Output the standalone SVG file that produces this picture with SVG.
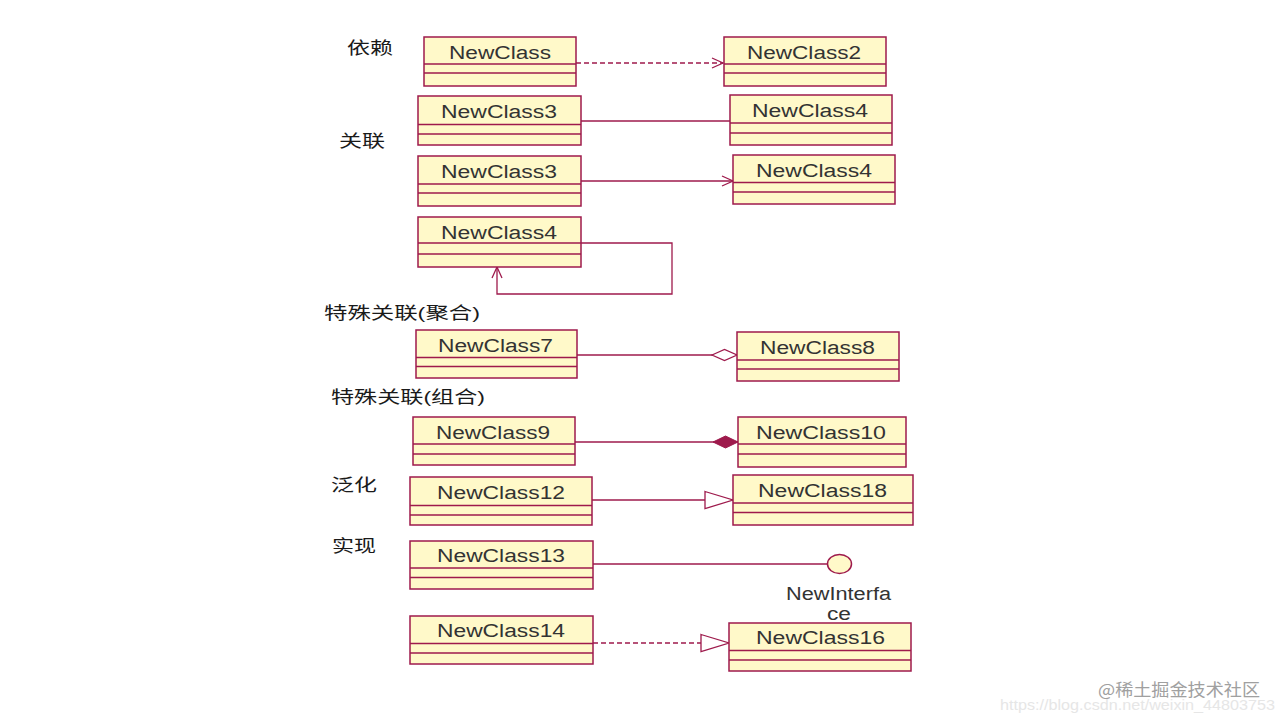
<svg xmlns="http://www.w3.org/2000/svg" width="1280" height="720" viewBox="0 0 1280 720">
<style>
.box{fill:#FFF9C9;stroke:#9E1A4C;stroke-width:1.5}
.div{stroke:#9E1A4C;stroke-width:1.3}
.nm{font-family:"Liberation Sans",Arial,sans-serif;font-size:18px;fill:#333;text-anchor:middle}
.lbl{font-family:"Liberation Sans","Noto Sans CJK SC",sans-serif;font-size:17px;fill:#1a1a1a}
.ln{fill:none;stroke:#9E1A4C;stroke-width:1.3}
.dash{stroke-dasharray:5 3}
</style>
<defs>
<marker id="open" markerUnits="userSpaceOnUse" markerWidth="14" markerHeight="14" refX="12" refY="6" orient="auto" viewBox="0 0 14 12">
<path d="M1 1 L12 6 L1 11" fill="none" stroke="#9E1A4C" stroke-width="1.3"/>
</marker>
<marker id="hdia" markerUnits="userSpaceOnUse" markerWidth="28" markerHeight="14" refX="26" refY="7" orient="auto" viewBox="0 0 28 14">
<path d="M1 7 L13.5 1.5 L26 7 L13.5 12.5 Z" fill="#fff" stroke="#9E1A4C" stroke-width="1.3"/>
</marker>
<marker id="fdia" markerUnits="userSpaceOnUse" markerWidth="28" markerHeight="14" refX="26" refY="7" orient="auto" viewBox="0 0 28 14">
<path d="M1 7 L13.5 1 L26 7 L13.5 13 Z" fill="#9E1A4C" stroke="#9E1A4C" stroke-width="1"/>
</marker>
<marker id="tri" markerUnits="userSpaceOnUse" markerWidth="32" markerHeight="20" refX="29" refY="10" orient="auto" viewBox="0 0 32 20">
<path d="M1 1.5 L29 10 L1 18.5 Z" fill="#fff" stroke="#9E1A4C" stroke-width="1.3"/>
</marker>
</defs>
<rect width="1280" height="720" fill="#fff"/>

<g id="labels">
<text class="lbl" x="347" y="54" textLength="46" lengthAdjust="spacingAndGlyphs">依赖</text>
<text class="lbl" x="339" y="147" textLength="46" lengthAdjust="spacingAndGlyphs">关联</text>
<text class="lbl" x="324" y="319" textLength="156" lengthAdjust="spacingAndGlyphs">特殊关联(聚合)</text>
<text class="lbl" x="331" y="403" textLength="154" lengthAdjust="spacingAndGlyphs">特殊关联(组合)</text>
<text class="lbl" x="331" y="491" textLength="46" lengthAdjust="spacingAndGlyphs">泛化</text>
<text class="lbl" x="332" y="552" textLength="44" lengthAdjust="spacingAndGlyphs">实现</text>
</g>

<g id="connectors">
<line class="ln dash" x1="576" y1="63" x2="723" y2="63" marker-end="url(#open)"/>
<line class="ln" x1="581" y1="121" x2="730" y2="121"/>
<line class="ln" x1="581" y1="181" x2="733" y2="181" marker-end="url(#open)"/>
<polyline class="ln" points="581,243 672,243 672,294 497,294 497,267" marker-end="url(#open)"/>
<line class="ln" x1="577" y1="355" x2="737" y2="355" marker-end="url(#hdia)"/>
<line class="ln" x1="575" y1="442" x2="738" y2="442" marker-end="url(#fdia)"/>
<line class="ln" x1="592" y1="500" x2="733" y2="500" marker-end="url(#tri)"/>
<line class="ln" x1="593" y1="564" x2="828" y2="564"/>
<line class="ln dash" x1="593" y1="643" x2="729" y2="643" marker-end="url(#tri)"/>
</g>

<g id="NewClass">
<rect class="box" x="424" y="37" width="152" height="49"/>
<line class="div" x1="424" y1="64" x2="576" y2="64"/><line class="div" x1="424" y1="73" x2="576" y2="73"/>
<text class="nm" x="500" y="59" textLength="102" lengthAdjust="spacingAndGlyphs">NewClass</text>
</g>
<g id="NewClass2">
<rect class="box" x="724" y="37" width="162" height="49"/>
<line class="div" x1="724" y1="64" x2="886" y2="64"/><line class="div" x1="724" y1="73" x2="886" y2="73"/>
<text class="nm" x="804" y="59" textLength="114" lengthAdjust="spacingAndGlyphs">NewClass2</text>
</g>
<g id="NewClass3a">
<rect class="box" x="418" y="96" width="163" height="49"/>
<line class="div" x1="418" y1="124.5" x2="581" y2="124.5"/><line class="div" x1="418" y1="134" x2="581" y2="134"/>
<text class="nm" x="499" y="118" textLength="116" lengthAdjust="spacingAndGlyphs">NewClass3</text>
</g>
<g id="NewClass4a">
<rect class="box" x="730" y="95" width="162" height="50"/>
<line class="div" x1="730" y1="123" x2="892" y2="123"/><line class="div" x1="730" y1="133" x2="892" y2="133"/>
<text class="nm" x="810" y="117" textLength="116" lengthAdjust="spacingAndGlyphs">NewClass4</text>
</g>
<g id="NewClass3b">
<rect class="box" x="418" y="156" width="163" height="50"/>
<line class="div" x1="418" y1="184" x2="581" y2="184"/><line class="div" x1="418" y1="193" x2="581" y2="193"/>
<text class="nm" x="499" y="178" textLength="116" lengthAdjust="spacingAndGlyphs">NewClass3</text>
</g>
<g id="NewClass4b">
<rect class="box" x="733" y="155" width="162" height="49"/>
<line class="div" x1="733" y1="182.5" x2="895" y2="182.5"/><line class="div" x1="733" y1="192" x2="895" y2="192"/>
<text class="nm" x="814" y="177" textLength="116" lengthAdjust="spacingAndGlyphs">NewClass4</text>
</g>
<g id="NewClass4c">
<rect class="box" x="418" y="217" width="163" height="50"/>
<line class="div" x1="418" y1="243" x2="581" y2="243"/><line class="div" x1="418" y1="254" x2="581" y2="254"/>
<text class="nm" x="499" y="239" textLength="116" lengthAdjust="spacingAndGlyphs">NewClass4</text>
</g>
<g id="NewClass7">
<rect class="box" x="416" y="330" width="161" height="48"/>
<line class="div" x1="416" y1="357.5" x2="577" y2="357.5"/><line class="div" x1="416" y1="366.5" x2="577" y2="366.5"/>
<text class="nm" x="495.5" y="352" textLength="115" lengthAdjust="spacingAndGlyphs">NewClass7</text>
</g>
<g id="NewClass8">
<rect class="box" x="737" y="332" width="162" height="49"/>
<line class="div" x1="737" y1="360" x2="899" y2="360"/><line class="div" x1="737" y1="369" x2="899" y2="369"/>
<text class="nm" x="817.5" y="354" textLength="115" lengthAdjust="spacingAndGlyphs">NewClass8</text>
</g>
<g id="NewClass9">
<rect class="box" x="413" y="417" width="162" height="48"/>
<line class="div" x1="413" y1="444" x2="575" y2="444"/><line class="div" x1="413" y1="454" x2="575" y2="454"/>
<text class="nm" x="493" y="439" textLength="114" lengthAdjust="spacingAndGlyphs">NewClass9</text>
</g>
<g id="NewClass10">
<rect class="box" x="738" y="417" width="168" height="50"/>
<line class="div" x1="738" y1="444" x2="906" y2="444"/><line class="div" x1="738" y1="454" x2="906" y2="454"/>
<text class="nm" x="821" y="439" textLength="130" lengthAdjust="spacingAndGlyphs">NewClass10</text>
</g>
<g id="NewClass12">
<rect class="box" x="410" y="477" width="182" height="48"/>
<line class="div" x1="410" y1="505.5" x2="592" y2="505.5"/><line class="div" x1="410" y1="515" x2="592" y2="515"/>
<text class="nm" x="501" y="499" textLength="128" lengthAdjust="spacingAndGlyphs">NewClass12</text>
</g>
<g id="NewClass18">
<rect class="box" x="733" y="475" width="180" height="50"/>
<line class="div" x1="733" y1="503" x2="913" y2="503"/><line class="div" x1="733" y1="512.5" x2="913" y2="512.5"/>
<text class="nm" x="822.5" y="497" textLength="129" lengthAdjust="spacingAndGlyphs">NewClass18</text>
</g>
<g id="NewClass13">
<rect class="box" x="410" y="541" width="183" height="48"/>
<line class="div" x1="410" y1="568" x2="593" y2="568"/><line class="div" x1="410" y1="577.5" x2="593" y2="577.5"/>
<text class="nm" x="501" y="562" textLength="128" lengthAdjust="spacingAndGlyphs">NewClass13</text>
</g>
<g id="NewInterface">
<ellipse class="box" cx="839.5" cy="564" rx="12" ry="9.5" stroke-width="1.3"/>
<text class="nm" x="838.5" y="600" textLength="105" lengthAdjust="spacingAndGlyphs">NewInterfa</text>
<text class="nm" x="839" y="620" textLength="24" lengthAdjust="spacingAndGlyphs">ce</text>
</g>
<g id="NewClass14">
<rect class="box" x="410" y="616" width="183" height="48"/>
<line class="div" x1="410" y1="643.5" x2="593" y2="643.5"/><line class="div" x1="410" y1="653" x2="593" y2="653"/>
<text class="nm" x="501" y="637" textLength="128" lengthAdjust="spacingAndGlyphs">NewClass14</text>
</g>
<g id="NewClass16">
<rect class="box" x="729" y="623" width="182" height="48"/>
<line class="div" x1="729" y1="650.5" x2="911" y2="650.5"/><line class="div" x1="729" y1="660" x2="911" y2="660"/>
<text class="nm" x="820.5" y="644" textLength="129" lengthAdjust="spacingAndGlyphs">NewClass16</text>
</g>

<g id="watermark">
<text x="1000" y="710" font-family="'Liberation Sans',sans-serif" font-size="15" fill="#e6e6e6" textLength="275" lengthAdjust="spacingAndGlyphs">https://blog.csdn.net/weixin_44803753</text>
<text x="1098" y="696" font-family="'Noto Sans CJK SC',sans-serif" font-size="17" fill="#a0a0a0" textLength="162" lengthAdjust="spacingAndGlyphs">@稀土掘金技术社区</text>
</g>
</svg>
